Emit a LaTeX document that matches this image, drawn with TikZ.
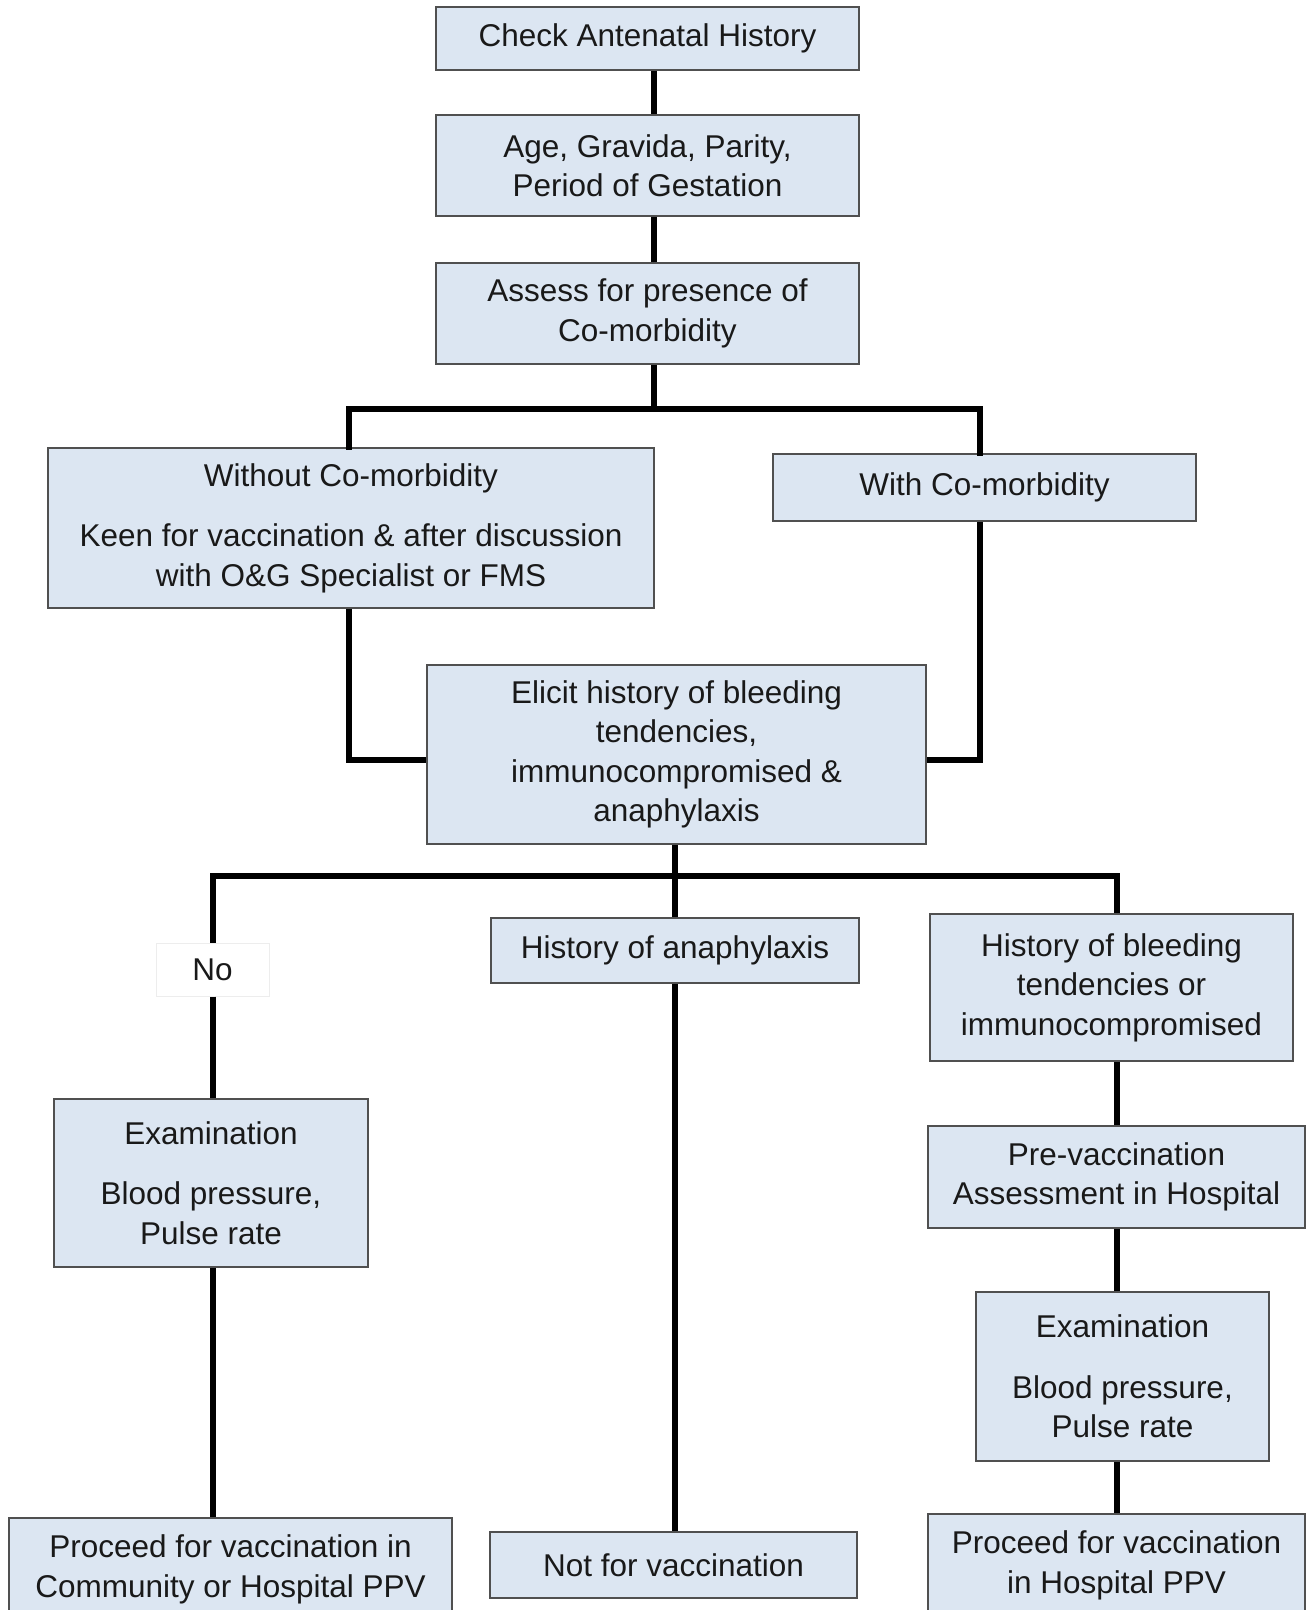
\documentclass[tikz,border=0pt]{standalone}
\usepackage{fontspec}
\setmainfont{Liberation Sans}
\definecolor{boxfill}{RGB}{220,230,242}
\definecolor{boxline}{RGB}{80,80,80}
\definecolor{txt}{RGB}{25,25,25}
\begin{document}
\begin{tikzpicture}[x=1pt,y=-1pt,
  box/.style={draw=boxline, line width=1.6pt, fill=boxfill, text=txt,
    align=center, inner sep=0pt,
    font=\fontsize{31.5}{39.5}\selectfont},
  openbox/.style={box, anchor=north, inner xsep=0pt, inner ysep=17pt},
  label/.style={draw=black!7, line width=1pt, fill=white, text=txt,
    align=center, inner sep=0pt, font=\fontsize{31.5}{39.5}\selectfont},
  link/.style={draw=black, line width=5.5pt}]
\useasboundingbox (0,0) rectangle (1306,1610);
\clip (0,0) rectangle (1306,1610);
\fill[white] (0,0) rectangle (1306,1610);

% boxes
\node[box, minimum width=423, minimum height=63] (check) at (647.5,38.5) {Check Antenatal History};
\node[box, minimum width=423, minimum height=101] (age) at (647.5,165.5) {Age, Gravida, Parity,\\Period of Gestation};
\node[box, minimum width=423, minimum height=101] (assess) at (647.5,313.5) {Assess for presence of\\Co-morbidity};
\node[box, minimum width=606, minimum height=160] (without) at (351,528)
  {Without Co-morbidity\\[21pt]Keen for vaccination \& after discussion\\with O\&G Specialist or FMS};
\node[box, minimum width=423, minimum height=67] (with) at (984.5,487.5) {With Co-morbidity};
\node[box, minimum width=499, minimum height=179] (elicit) at (676.5,754.5)
  {Elicit history of bleeding\\tendencies,\\immunocompromised \&\\anaphylaxis};
\node[label, minimum width=113, minimum height=53] (no) at (212.5,969.5) {No};
\node[box, minimum width=368, minimum height=65] (anaph) at (675,950.5) {History of anaphylaxis};
\node[box, minimum width=363, minimum height=147] (bleed) at (1111.5,987.5)
  {History of bleeding\\tendencies or\\immunocompromised};
\node[box, minimum width=314, minimum height=168] (examL) at (211,1183)
  {Examination\\[21pt]Blood pressure,\\Pulse rate};
\node[box, minimum width=377, minimum height=102] (prevac) at (1116.5,1177)
  {Pre-vaccination\\Assessment in Hospital};
\node[box, minimum width=293, minimum height=169] (examR) at (1122.5,1376.5)
  {Examination\\[21pt]Blood pressure,\\Pulse rate};
\node[openbox, minimum width=443] (proceedL) at (230.5,1517)
  {Proceed for vaccination in\\Community or Hospital PPV};
\node[box, minimum width=367, minimum height=66] (notvac) at (673.5,1565) {Not for vaccination};
\node[openbox, minimum width=377] (proceedR) at (1116.5,1513)
  {Proceed for vaccination\\in Hospital PPV};

% junction points of the connectors
\coordinate (top) at (654,409);
\coordinate (jl) at (349,409);
\coordinate (jr) at (980,409);
\coordinate (ml) at (349,760);
\coordinate (mr) at (980,760);
\coordinate (low) at (675,876);
\coordinate (kl) at (213,876);
\coordinate (kr) at (1117,876);

% connectors
\draw[link] (check.south -| top) -- (age.north -| top);
\draw[link] (age.south -| top) -- (assess.north -| top);
\draw[link] (assess.south -| top) -- (top);
\draw[link, line cap=rect] (without.north -| jl) -- (jl) -- (jr) -- (with.north -| jr);
\draw[link] (without.south -| ml) -- (ml) -- (elicit.west |- ml);
\draw[link] (with.south -| mr) -- (mr) -- (elicit.east |- mr);
\draw[link] (elicit.south -| low) -- (low);
\draw[link] (no.north -| kl) -- (kl) -- (kr) -- (bleed.north -| kr);
\draw[link] (low) -- (anaph.north -| low);
\draw[link] (no.south -| kl) -- (examL.north -| kl);
\draw[link] (examL.south -| kl) -- (proceedL.north -| kl);
\draw[link] (anaph.south -| low) -- (notvac.north -| low);
\draw[link] (bleed.south -| kr) -- (prevac.north -| kr);
\draw[link] (prevac.south -| kr) -- (examR.north -| kr);
\draw[link] (examR.south -| kr) -- (proceedR.north -| kr);
\end{tikzpicture}
\end{document}
